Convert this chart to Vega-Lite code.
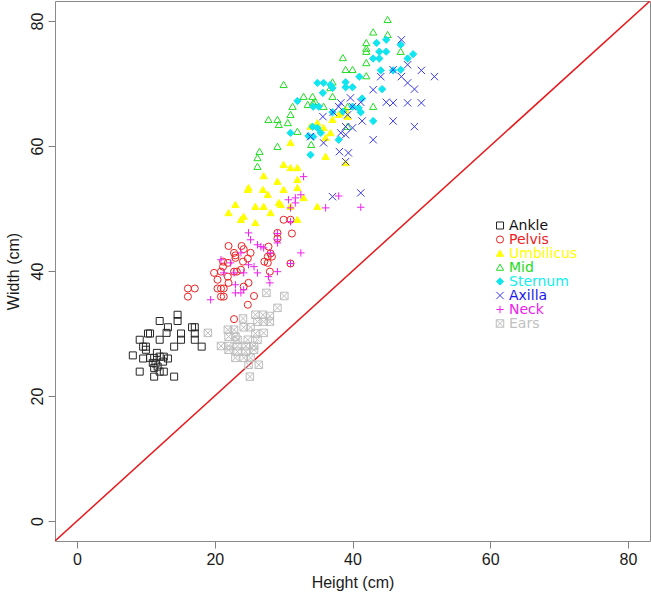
{
  "$schema": "https://vega.github.io/schema/vega-lite/v6.json",
  "width": 595,
  "height": 540,
  "autosize": "none",
  "padding": {"left": 55, "top": 1, "right": 1, "bottom": 53},
  "background": "white",
  "config": {
    "view": {"stroke": "#8a8a8a", "strokeWidth": 1},
    "font": "Liberation Sans"
  },
  "datasets": {
    "diag": [{"label": "y = x"}],
    "pts": [
      {"site":"Ankle","height":12.0,"width":32.0},{"site":"Ankle","height":14.6,"width":33.0},{"site":"Ankle","height":14.6,"width":32.0},{"site":"Ankle","height":13.2,"width":31.0},{"site":"Ankle","height":13.0,"width":30.1},{"site":"Ankle","height":10.3,"width":30.0},{"site":"Ankle","height":10.6,"width":30.0},{"site":"Ankle","height":9.1,"width":29.0},{"site":"Ankle","height":12.0,"width":29.0},{"site":"Ankle","height":15.1,"width":30.0},{"site":"Ankle","height":15.1,"width":29.0},{"site":"Ankle","height":16.7,"width":31.0},{"site":"Ankle","height":17.1,"width":31.0},{"site":"Ankle","height":17.1,"width":30.0},{"site":"Ankle","height":17.1,"width":29.0},{"site":"Ankle","height":18.1,"width":27.9},{"site":"Ankle","height":14.1,"width":27.9},{"site":"Ankle","height":9.6,"width":27.9},{"site":"Ankle","height":10.0,"width":27.9},{"site":"Ankle","height":10.0,"width":27.4},{"site":"Ankle","height":8.1,"width":26.5},{"site":"Ankle","height":9.6,"width":26.0},{"site":"Ankle","height":10.6,"width":26.1},{"site":"Ankle","height":11.2,"width":26.1},{"site":"Ankle","height":11.6,"width":26.9},{"site":"Ankle","height":12.0,"width":26.3},{"site":"Ankle","height":12.6,"width":26.3},{"site":"Ankle","height":13.2,"width":26.0},{"site":"Ankle","height":11.0,"width":25.3},{"site":"Ankle","height":11.4,"width":25.2},{"site":"Ankle","height":12.5,"width":25.5},{"site":"Ankle","height":11.2,"width":24.5},{"site":"Ankle","height":11.7,"width":24.7},{"site":"Ankle","height":9.1,"width":23.9},{"site":"Ankle","height":12.0,"width":23.9},{"site":"Ankle","height":12.6,"width":23.9},{"site":"Ankle","height":11.2,"width":23.1},{"site":"Ankle","height":14.1,"width":23.1},
      {"site":"Pelvis","height":30.0,"width":48.2},{"site":"Pelvis","height":31.0,"width":48.2},{"site":"Pelvis","height":29.1,"width":46.1},{"site":"Pelvis","height":29.1,"width":45.2},{"site":"Pelvis","height":31.2,"width":46.0},{"site":"Pelvis","height":31.0,"width":41.2},{"site":"Pelvis","height":22.0,"width":44.0},{"site":"Pelvis","height":22.8,"width":42.9},{"site":"Pelvis","height":23.9,"width":44.0},{"site":"Pelvis","height":24.2,"width":43.5},{"site":"Pelvis","height":25.2,"width":42.9},{"site":"Pelvis","height":27.8,"width":43.9},{"site":"Pelvis","height":28.1,"width":42.8},{"site":"Pelvis","height":27.7,"width":42.3},{"site":"Pelvis","height":28.3,"width":42.3},{"site":"Pelvis","height":27.2,"width":41.5},{"site":"Pelvis","height":27.7,"width":41.3},{"site":"Pelvis","height":23.0,"width":42.1},{"site":"Pelvis","height":24.1,"width":41.5},{"site":"Pelvis","height":24.8,"width":42.0},{"site":"Pelvis","height":21.2,"width":41.5},{"site":"Pelvis","height":21.2,"width":40.7},{"site":"Pelvis","height":19.9,"width":39.7},{"site":"Pelvis","height":20.9,"width":39.9},{"site":"Pelvis","height":21.9,"width":39.1},{"site":"Pelvis","height":23.2,"width":39.9},{"site":"Pelvis","height":23.8,"width":40.2},{"site":"Pelvis","height":28.0,"width":39.9},{"site":"Pelvis","height":22.0,"width":38.1},{"site":"Pelvis","height":24.9,"width":38.1},{"site":"Pelvis","height":20.4,"width":37.2},{"site":"Pelvis","height":20.9,"width":37.2},{"site":"Pelvis","height":21.3,"width":37.2},{"site":"Pelvis","height":16.1,"width":37.2},{"site":"Pelvis","height":17.1,"width":37.2},{"site":"Pelvis","height":16.1,"width":35.9},{"site":"Pelvis","height":20.9,"width":35.9},{"site":"Pelvis","height":21.3,"width":35.9},{"site":"Pelvis","height":24.8,"width":34.6},{"site":"Pelvis","height":22.8,"width":32.3},{"site":"Pelvis","height":23.0,"width":42.5},{"site":"Pelvis","height":21.9,"width":41.3},{"site":"Pelvis","height":22.8,"width":39.9},{"site":"Pelvis","height":20.4,"width":38.6},{"site":"Pelvis","height":25.7,"width":36.0},{"site":"Pelvis","height":24.2,"width":37.5},
      {"site":"Umbilicus","height":31.0,"width":60.5},{"site":"Umbilicus","height":30.0,"width":57.0},{"site":"Umbilicus","height":31.0,"width":56.5},{"site":"Umbilicus","height":32.0,"width":56.5},{"site":"Umbilicus","height":27.1,"width":55.2},{"site":"Umbilicus","height":29.1,"width":54.3},{"site":"Umbilicus","height":32.0,"width":54.6},{"site":"Umbilicus","height":24.9,"width":53.3},{"site":"Umbilicus","height":27.0,"width":53.0},{"site":"Umbilicus","height":30.0,"width":53.0},{"site":"Umbilicus","height":32.0,"width":53.3},{"site":"Umbilicus","height":27.7,"width":52.2},{"site":"Umbilicus","height":32.9,"width":51.7},{"site":"Umbilicus","height":23.0,"width":50.6},{"site":"Umbilicus","height":25.9,"width":50.3},{"site":"Umbilicus","height":27.1,"width":50.3},{"site":"Umbilicus","height":29.6,"width":50.6},{"site":"Umbilicus","height":31.0,"width":50.3},{"site":"Umbilicus","height":34.9,"width":50.3},{"site":"Umbilicus","height":22.0,"width":49.3},{"site":"Umbilicus","height":28.1,"width":49.3},{"site":"Umbilicus","height":24.2,"width":48.7},{"site":"Umbilicus","height":23.8,"width":48.2},{"site":"Umbilicus","height":25.9,"width":47.7},{"site":"Umbilicus","height":32.0,"width":48.2},{"site":"Umbilicus","height":36.1,"width":58.3},{"site":"Umbilicus","height":39.0,"width":57.3},{"site":"Umbilicus","height":36.1,"width":61.3},{"site":"Umbilicus","height":33.9,"width":63.1},{"site":"Umbilicus","height":37.1,"width":64.2},{"site":"Umbilicus","height":34.9,"width":63.7},{"site":"Umbilicus","height":35.8,"width":62.9},{"site":"Umbilicus","height":38.3,"width":65.3},{"site":"Umbilicus","height":39.3,"width":64.7},{"site":"Umbilicus","height":36.8,"width":62.1},{"site":"Umbilicus","height":38.0,"width":65.0},{"site":"Umbilicus","height":39.0,"width":65.8},{"site":"Umbilicus","height":24.8,"width":53.0},{"site":"Umbilicus","height":29.3,"width":50.9},
      {"site":"Mid","height":45.1,"width":80.2},{"site":"Mid","height":43.0,"width":78.2},{"site":"Mid","height":45.1,"width":77.8},{"site":"Mid","height":42.0,"width":76.5},{"site":"Mid","height":42.0,"width":75.6},{"site":"Mid","height":42.0,"width":75.1},{"site":"Mid","height":47.0,"width":75.1},{"site":"Mid","height":42.0,"width":73.3},{"site":"Mid","height":38.6,"width":74.1},{"site":"Mid","height":39.0,"width":72.2},{"site":"Mid","height":40.0,"width":72.2},{"site":"Mid","height":42.0,"width":71.2},{"site":"Mid","height":30.0,"width":69.8},{"site":"Mid","height":37.1,"width":70.2},{"site":"Mid","height":36.8,"width":69.3},{"site":"Mid","height":32.9,"width":67.9},{"site":"Mid","height":34.2,"width":67.9},{"site":"Mid","height":33.5,"width":66.6},{"site":"Mid","height":34.3,"width":66.9},{"site":"Mid","height":35.8,"width":66.3},{"site":"Mid","height":37.1,"width":67.9},{"site":"Mid","height":39.3,"width":66.3},{"site":"Mid","height":39.3,"width":63.1},{"site":"Mid","height":43.0,"width":66.3},{"site":"Mid","height":31.3,"width":66.3},{"site":"Mid","height":31.0,"width":65.0},{"site":"Mid","height":30.6,"width":63.7},{"site":"Mid","height":32.0,"width":62.3},{"site":"Mid","height":34.0,"width":60.2},{"site":"Mid","height":27.8,"width":64.2},{"site":"Mid","height":29.1,"width":64.2},{"site":"Mid","height":29.3,"width":63.4},{"site":"Mid","height":29.1,"width":59.9},{"site":"Mid","height":26.5,"width":59.1},{"site":"Mid","height":26.2,"width":58.1},{"site":"Mid","height":26.2,"width":56.7},{"site":"Mid","height":34.6,"width":67.1},
      {"site":"Sternum","height":43.5,"width":76.5},{"site":"Sternum","height":44.9,"width":77.0},{"site":"Sternum","height":47.0,"width":76.2},{"site":"Sternum","height":43.9,"width":75.1},{"site":"Sternum","height":44.9,"width":75.1},{"site":"Sternum","height":43.0,"width":74.0},{"site":"Sternum","height":43.9,"width":74.0},{"site":"Sternum","height":48.0,"width":74.0},{"site":"Sternum","height":48.8,"width":74.7},{"site":"Sternum","height":44.1,"width":72.1},{"site":"Sternum","height":45.9,"width":72.1},{"site":"Sternum","height":47.0,"width":72.2},{"site":"Sternum","height":41.0,"width":71.1},{"site":"Sternum","height":34.9,"width":70.1},{"site":"Sternum","height":35.8,"width":70.1},{"site":"Sternum","height":36.8,"width":69.8},{"site":"Sternum","height":37.1,"width":69.3},{"site":"Sternum","height":39.0,"width":70.2},{"site":"Sternum","height":39.0,"width":69.4},{"site":"Sternum","height":40.0,"width":69.4},{"site":"Sternum","height":35.7,"width":68.5},{"site":"Sternum","height":41.4,"width":67.6},{"site":"Sternum","height":44.3,"width":69.1},{"site":"Sternum","height":32.0,"width":67.2},{"site":"Sternum","height":34.3,"width":66.3},{"site":"Sternum","height":35.1,"width":66.3},{"site":"Sternum","height":40.0,"width":66.3},{"site":"Sternum","height":40.9,"width":66.1},{"site":"Sternum","height":37.1,"width":65.4},{"site":"Sternum","height":38.6,"width":65.5},{"site":"Sternum","height":41.2,"width":65.4},{"site":"Sternum","height":43.0,"width":64.0},{"site":"Sternum","height":34.2,"width":63.1},{"site":"Sternum","height":34.9,"width":62.9},{"site":"Sternum","height":35.4,"width":62.1},{"site":"Sternum","height":31.0,"width":62.1},{"site":"Sternum","height":33.6,"width":61.6},{"site":"Sternum","height":34.3,"width":61.5},{"site":"Sternum","height":38.0,"width":61.0},{"site":"Sternum","height":33.9,"width":58.6},
      {"site":"Axilla","height":47.1,"width":77.0},{"site":"Axilla","height":48.0,"width":73.0},{"site":"Axilla","height":50.0,"width":72.1},{"site":"Axilla","height":51.9,"width":71.1},{"site":"Axilla","height":45.9,"width":72.2},{"site":"Axilla","height":44.1,"width":71.1},{"site":"Axilla","height":47.1,"width":71.1},{"site":"Axilla","height":48.0,"width":70.1},{"site":"Axilla","height":49.0,"width":69.1},{"site":"Axilla","height":43.0,"width":69.0},{"site":"Axilla","height":39.7,"width":67.7},{"site":"Axilla","height":44.9,"width":67.0},{"site":"Axilla","height":45.9,"width":66.9},{"site":"Axilla","height":48.0,"width":66.9},{"site":"Axilla","height":50.0,"width":66.9},{"site":"Axilla","height":38.3,"width":66.9},{"site":"Axilla","height":41.2,"width":67.0},{"site":"Axilla","height":45.9,"width":64.0},{"site":"Axilla","height":49.0,"width":63.1},{"site":"Axilla","height":43.0,"width":61.0},{"site":"Axilla","height":38.0,"width":66.3},{"site":"Axilla","height":40.0,"width":66.3},{"site":"Axilla","height":39.3,"width":65.0},{"site":"Axilla","height":35.7,"width":64.7},{"site":"Axilla","height":37.2,"width":65.4},{"site":"Axilla","height":41.4,"width":64.0},{"site":"Axilla","height":39.0,"width":63.1},{"site":"Axilla","height":40.0,"width":62.9},{"site":"Axilla","height":38.3,"width":62.1},{"site":"Axilla","height":39.0,"width":61.8},{"site":"Axilla","height":33.9,"width":61.5},{"site":"Axilla","height":35.8,"width":60.5},{"site":"Axilla","height":38.1,"width":59.1},{"site":"Axilla","height":39.4,"width":58.9},{"site":"Axilla","height":39.0,"width":57.5},{"site":"Axilla","height":37.1,"width":51.9},{"site":"Axilla","height":41.2,"width":52.5},
      {"site":"Neck","height":32.9,"width":55.1},{"site":"Neck","height":30.7,"width":51.4},{"site":"Neck","height":31.7,"width":51.7},{"site":"Neck","height":32.5,"width":52.2},{"site":"Neck","height":31.0,"width":50.1},{"site":"Neck","height":31.7,"width":50.9},{"site":"Neck","height":36.1,"width":50.1},{"site":"Neck","height":38.0,"width":52.0},{"site":"Neck","height":41.2,"width":50.2},{"site":"Neck","height":31.0,"width":47.9},{"site":"Neck","height":29.1,"width":46.0},{"site":"Neck","height":29.1,"width":45.0},{"site":"Neck","height":24.9,"width":46.1},{"site":"Neck","height":25.2,"width":45.0},{"site":"Neck","height":26.2,"width":44.2},{"site":"Neck","height":26.7,"width":43.9},{"site":"Neck","height":23.8,"width":42.9},{"site":"Neck","height":28.1,"width":42.9},{"site":"Neck","height":32.5,"width":42.9},{"site":"Neck","height":22.3,"width":41.3},{"site":"Neck","height":20.9,"width":41.8},{"site":"Neck","height":24.9,"width":41.0},{"site":"Neck","height":25.7,"width":40.7},{"site":"Neck","height":26.2,"width":39.7},{"site":"Neck","height":24.2,"width":39.7},{"site":"Neck","height":29.1,"width":39.9},{"site":"Neck","height":31.0,"width":41.2},{"site":"Neck","height":27.8,"width":39.1},{"site":"Neck","height":28.0,"width":38.1},{"site":"Neck","height":22.8,"width":39.7},{"site":"Neck","height":23.0,"width":37.8},{"site":"Neck","height":23.8,"width":36.5},{"site":"Neck","height":21.3,"width":39.7},{"site":"Neck","height":19.4,"width":35.4},{"site":"Neck","height":23.0,"width":36.5},{"site":"Neck","height":24.2,"width":37.0},{"site":"Neck","height":27.1,"width":43.7},{"site":"Neck","height":29.1,"width":44.5},
      {"site":"Ears","height":27.5,"width":36.5},{"site":"Ears","height":30.1,"width":36.0},{"site":"Ears","height":29.1,"width":34.1},{"site":"Ears","height":24.1,"width":32.4},{"site":"Ears","height":25.9,"width":33.0},{"site":"Ears","height":27.0,"width":33.0},{"site":"Ears","height":28.0,"width":32.8},{"site":"Ears","height":28.0,"width":31.9},{"site":"Ears","height":27.1,"width":31.9},{"site":"Ears","height":26.2,"width":31.9},{"site":"Ears","height":19.0,"width":30.1},{"site":"Ears","height":21.9,"width":30.6},{"site":"Ears","height":22.8,"width":30.6},{"site":"Ears","height":22.0,"width":29.5},{"site":"Ears","height":23.0,"width":29.5},{"site":"Ears","height":24.2,"width":31.0},{"site":"Ears","height":25.2,"width":31.0},{"site":"Ears","height":25.9,"width":30.0},{"site":"Ears","height":27.1,"width":30.1},{"site":"Ears","height":20.9,"width":28.0},{"site":"Ears","height":22.0,"width":28.0},{"site":"Ears","height":23.3,"width":28.0},{"site":"Ears","height":24.5,"width":28.0},{"site":"Ears","height":25.7,"width":28.0},{"site":"Ears","height":23.3,"width":29.0},{"site":"Ears","height":24.8,"width":29.0},{"site":"Ears","height":26.2,"width":29.0},{"site":"Ears","height":22.0,"width":27.4},{"site":"Ears","height":23.3,"width":27.1},{"site":"Ears","height":24.5,"width":27.1},{"site":"Ears","height":25.7,"width":27.4},{"site":"Ears","height":23.0,"width":26.1},{"site":"Ears","height":24.2,"width":26.1},{"site":"Ears","height":25.2,"width":26.1},{"site":"Ears","height":24.9,"width":25.0},{"site":"Ears","height":26.4,"width":25.0},{"site":"Ears","height":25.1,"width":23.1}
    ]
  },
  "layer": [
    {
      "data": {"name": "diag"},
      "mark": {"type": "rule", "color": "#e8191c", "strokeWidth": 1.5, "clip": true},
      "encoding": {
        "x": {"datum": -3.2, "type": "quantitative", "scale": {"domain": [-3.2, 83.2], "nice": false, "zero": false}},
        "y": {"datum": -3.2, "type": "quantitative", "scale": {"domain": [-3.2, 83.2], "nice": false, "zero": false}},
        "x2": {"datum": 83.2},
        "y2": {"datum": 83.2}
      }
    },
    {
      "data": {"name": "pts"},
      "mark": {"type": "point", "filled": false, "strokeWidth": 1, "opacity": 1},
      "encoding": {
        "x": {
          "field": "height", "type": "quantitative",
          "scale": {"domain": [-3.2, 83.2], "nice": false, "zero": false},
          "axis": {
            "values": [0, 20, 40, 60, 80], "domain": false, "grid": false,
            "tickColor": "#808080", "tickSize": 7, "labelFontSize": 16, "labelColor": "#1a1a1a",
            "labelPadding": 3, "labelFlush": false, "title": "Height (cm)", "titleFontSize": 16,
            "titleFontWeight": "normal", "titleColor": "#1a1a1a", "titlePadding": 7
          }
        },
        "y": {
          "field": "width", "type": "quantitative",
          "scale": {"domain": [-3.2, 83.2], "nice": false, "zero": false},
          "axis": {
            "values": [0, 20, 40, 60, 80], "domain": false, "grid": false,
            "tickColor": "#808080", "tickSize": 7, "labelFontSize": 16, "labelColor": "#1a1a1a",
            "labelAngle": -90, "labelAlign": "center", "labelBaseline": "alphabetic",
            "labelPadding": 6, "labelFlush": false, "title": "Width (cm)", "titleFontSize": 16,
            "titleFontWeight": "normal", "titleColor": "#1a1a1a", "titlePadding": 8
          }
        },
        "color": {
          "field": "site", "type": "nominal",
          "scale": {
            "domain": ["Ankle", "Pelvis", "Umbilicus", "Mid", "Sternum", "Axilla", "Neck", "Ears"],
            "range": ["#262626", "#ee2222", "#ffff00", "#22dd22", "#11e5ee", "#3838ee", "#ee22ee", "#bdbdbd"]
          },
          "legend": {
            "title": null, "orient": "none", "legendX": 438, "legendY": 217.5, "padding": 0,
            "labelFont": "DejaVu Sans", "labelFontSize": 14, "labelOffset": 2, "symbolSize": 14, "symbolStrokeWidth": 1,
            "rowPadding": -10, "labelLimit": 200,
            "labelColor": {"expr": "datum.label === 'Pelvis' ? '#ee2222' : datum.label === 'Umbilicus' ? '#ffff00' : datum.label === 'Mid' ? '#22dd22' : datum.label === 'Sternum' ? '#11eeee' : datum.label === 'Axilla' ? '#1a1aee' : datum.label === 'Neck' ? '#ee22ee' : datum.label === 'Ears' ? '#c0c0c0' : '#111111'"}
          }
        },
        "fill": {
          "field": "site", "type": "nominal",
          "scale": {
            "domain": ["Ankle", "Pelvis", "Umbilicus", "Mid", "Sternum", "Axilla", "Neck", "Ears"],
            "range": ["transparent", "transparent", "#ffff00", "transparent", "#11e5ee", "transparent", "transparent", "transparent"]
          },
          "legend": {
            "title": null, "orient": "none", "legendX": 438, "legendY": 217.5, "padding": 0,
            "labelFont": "DejaVu Sans", "labelFontSize": 14, "labelOffset": 2, "symbolSize": 14, "symbolStrokeWidth": 1,
            "rowPadding": -10, "labelLimit": 200
          }
        },
        "shape": {
          "field": "site", "type": "nominal",
          "scale": {
            "domain": ["Ankle", "Pelvis", "Umbilicus", "Mid", "Sternum", "Axilla", "Neck", "Ears"],
            "range": [
              "M-1,-1H1V1H-1Z",
              "circle",
              "M0,-0.95L1,0.78L-1,0.78Z",
              "M0,-0.95L1,0.78L-1,0.78Z",
              "M0,-1L1,0L0,1L-1,0Z",
              "M-1,-1L1,1M-1,1L1,-1",
              "M-1,0L1,0M0,-1L0,1",
              "M-1,-1H1V1H-1ZM-1,-1L1,1M-1,1L1,-1"
            ]
          },
          "legend": {
            "title": null, "orient": "none", "legendX": 438, "legendY": 217.5, "padding": 0,
            "labelFont": "DejaVu Sans", "labelFontSize": 14, "labelOffset": 2, "symbolSize": 14, "symbolStrokeWidth": 1,
            "rowPadding": -10, "labelLimit": 200
          }
        },
        "size": {
          "field": "site", "type": "nominal",
          "scale": {
            "domain": ["Ankle", "Pelvis", "Umbilicus", "Mid", "Sternum", "Axilla", "Neck", "Ears"],
            "range": [49, 56, 90, 100, 52, 60, 100, 52]
          },
          "legend": null
        }
      }
    }
  ]
}
